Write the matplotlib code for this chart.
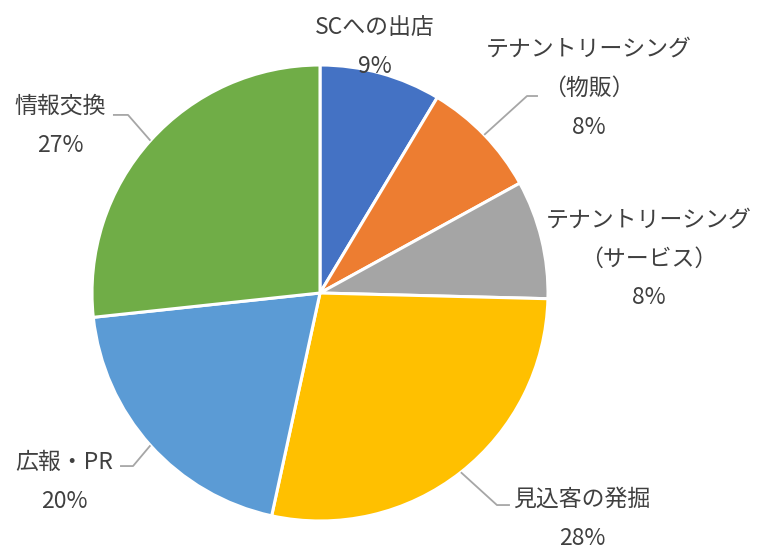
import matplotlib
matplotlib.use("Agg")
import matplotlib.pyplot as plt
import numpy as np

plt.rcParams['font.family'] = ['Noto Sans CJK JP', 'DejaVu Sans']

names = ['SCへの出店', 'テナントリーシング\n（物販）', 'テナントリーシング\n（サービス）',
         '見込客の発掘', '広報・PR', '情報交換']
values = [8.6, 8.4, 8.4, 28.0, 19.9, 26.7]
colors = ['#4472C4', '#ED7D31', '#A5A5A5', '#FFC000', '#5B9BD5', '#70AD47']

# label block centres, in pie-radius units
label_pos = [(0.24, 1.08), (1.18, 0.90), (1.44, 0.15),
             (1.15, -0.99), (-1.12, -0.83), (-1.14, 0.735)]
# leader elbows (None = no leader line)
elbows = [None, ((0.908, 0.864), (0.956, 0.864)), None,
          ((0.776, -0.930), (0.833, -0.930)),
          ((-0.820, -0.759), (-0.877, -0.759)),
          ((-0.842, 0.781), (-0.908, 0.781))]

fig = plt.figure(figsize=(7.7, 5.5), dpi=100)
ax = fig.add_axes([0, 0, 1, 1])
ax.pie(values, colors=colors, startangle=90, counterclock=False, radius=1,
       wedgeprops=dict(edgecolor='white', linewidth=2.2))
ax.set_xlim(-320 / 228, 450 / 228)
ax.set_ylim(-257 / 228, 293 / 228)
ax.set_aspect('equal')
ax.axis('off')

total = sum(values)
cum = np.cumsum([0] + values)
for i, (name, v) in enumerate(zip(names, values)):
    mid = np.deg2rad((cum[i] + v / 2) / total * 360)
    x0, y0 = np.sin(mid), np.cos(mid)
    if elbows[i] is not None:
        (ex, ey), (fx, fy) = elbows[i]
        ax.plot([x0, ex, fx], [y0, ey, fy], color='#A6A6A6', lw=1.3,
                solid_capstyle='butt')
    lx, ly = label_pos[i]
    ax.text(lx, ly, f'{name}\n{v / total * 100:.0f}%', ha='center', va='center',
            fontsize=16.5, color='#404040', linespacing=1.9)

fig.savefig('out.png', dpi=100)
